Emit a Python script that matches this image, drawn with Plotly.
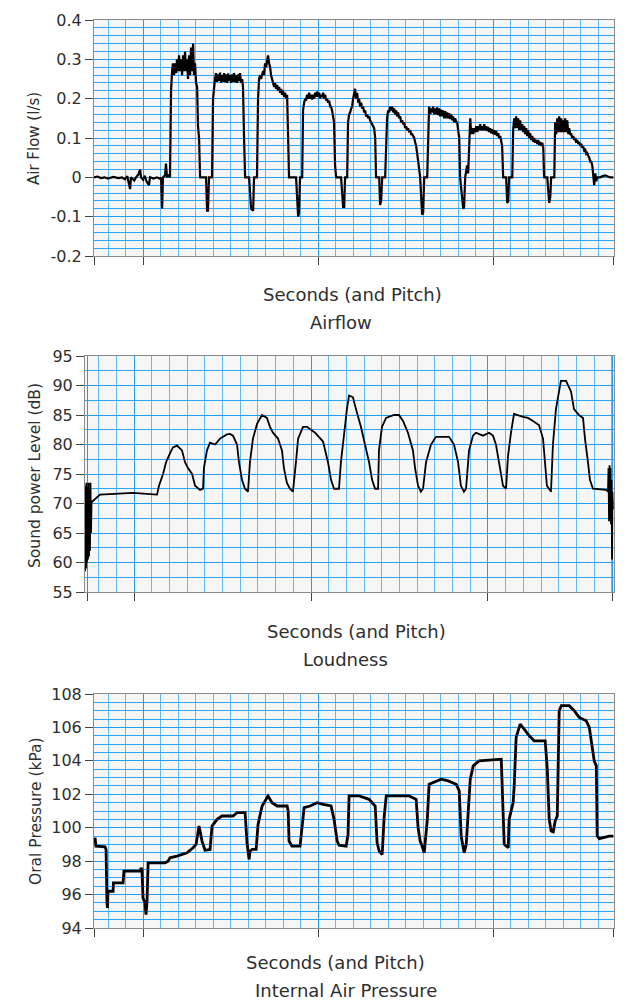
import plotly.graph_objects as go

# ---------------- data ----------------
AIR_T = [0.720,0.740,0.760,0.780,0.800,0.830,0.860,0.880,0.897,0.910,
         0.926,0.931,0.950,0.960,0.975,0.983,0.989,1.000,1.010,1.020,
         1.034,1.040,1.060,1.080,1.097,1.103,1.109,1.114,1.126,1.131,
         1.137,1.143,1.154,
         1.160,1.166,1.171,1.177,1.183,1.189,1.194,1.200,1.206,1.211,
         1.217,1.223,1.229,1.234,1.240,1.246,1.251,1.257,1.263,1.269,
         1.274,1.280,1.286,1.291,1.297,1.303,1.309,1.314,1.320,1.326,
         1.360,1.366,1.371,1.377,1.394,
         1.400,1.406,1.411,1.417,1.423,1.429,1.434,1.440,1.446,1.451,
         1.457,1.463,1.469,1.474,1.480,1.486,1.491,1.497,1.503,1.509,
         1.514,1.520,1.526,1.531,1.537,1.543,1.549,1.554,1.560,1.566,
         1.571,1.577,1.583,
         1.606,1.617,1.629,1.634,1.651,
         1.657,1.663,1.669,1.674,1.680,1.686,1.691,1.697,1.703,1.709,
         1.714,1.720,1.726,1.731,1.737,1.743,1.749,1.754,1.760,1.766,
         1.771,1.777,1.783,1.789,1.794,1.800,1.806,1.811,1.817,1.823,
         1.829,1.834,
         1.874,1.886,1.891,1.897,1.909,
         1.914,1.920,1.926,1.931,1.937,1.943,1.949,1.954,1.960,1.966,
         1.971,1.977,1.983,1.989,1.994,2.000,2.006,2.011,2.017,2.023,
         2.029,2.034,2.040,2.046,2.051,2.057,2.063,2.069,2.074,2.080,
         2.086,2.091,2.097,2.103,
         2.131,2.143,2.149,2.154,2.166,
         2.171,2.177,2.183,2.189,2.194,2.200,2.206,2.211,2.217,2.223,
         2.229,2.234,2.240,2.246,2.251,2.257,2.263,2.269,2.274,2.280,
         2.286,2.291,2.297,2.303,2.309,2.314,2.320,2.326,2.331,
         2.349,2.354,2.360,2.366,2.383,
         2.389,2.394,2.400,2.406,2.411,2.417,2.423,2.429,2.434,2.440,
         2.446,2.451,2.457,2.463,2.469,2.474,2.480,2.486,2.491,2.497,
         2.503,2.509,2.514,2.520,2.526,2.531,2.537,2.543,2.549,2.554,
         2.560,2.566,2.571,2.577,2.583,
         2.594,2.600,2.606,2.623,
         2.634,2.640,2.646,2.651,2.657,2.663,2.669,2.674,2.680,2.686,
         2.691,2.697,2.703,2.709,2.714,2.720,2.726,2.731,2.737,2.743,
         2.749,2.754,2.760,2.766,2.771,2.777,2.783,2.789,2.794,2.800,
         2.806,2.811,
         2.829,2.834,2.840,2.851,2.857,
         2.869,2.874,2.880,2.886,2.891,2.897,2.903,2.909,2.914,2.920,
         2.926,2.931,2.937,2.943,2.949,2.954,2.960,2.966,2.971,2.977,
         2.983,2.989,2.994,3.000,3.006,3.011,3.017,3.023,3.029,3.034,
         3.040,3.046,3.051,3.057,
         3.074,3.080,3.086,3.091,3.109,
         3.114,3.120,3.126,3.131,3.137,3.143,3.149,3.154,3.160,3.166,
         3.171,3.177,3.183,3.189,3.194,3.200,3.206,3.211,3.217,3.223,
         3.229,3.234,3.240,3.246,3.251,3.257,3.263,3.269,3.274,3.280,
         3.286,3.291,
         3.309,3.320,3.326,3.331,3.349,
         3.354,3.360,3.366,3.371,3.377,3.383,3.389,3.394,3.400,3.406,
         3.411,3.417,3.423,3.429,3.434,3.440,3.446,3.451,3.457,3.463,
         3.469,3.474,3.480,3.486,3.491,3.497,3.503,3.509,3.514,3.520,
         3.526,3.531,3.537,3.543,3.549,3.554,3.560,3.566,3.571,3.577,
         3.583,3.589,3.594,
         3.611,3.625,3.640,3.655,3.669,3.686]
AIR_V = [0.0,0.002,-0.002,0.0,-0.003,0.001,-0.002,0.0,-0.005,0.003,
         -0.03,0.0,-0.008,0.0,0.008,0.02,0.0,-0.006,0.004,-0.01,
         -0.02,0.0,-0.003,0.0,-0.004,0.0,-0.08,0.0,0.005,0.035,
         0.0,0.005,0.0,
         0.22,0.27,0.29,0.26,0.29,0.265,0.30,0.27,0.31,0.27,
         0.30,0.26,0.31,0.27,0.32,0.27,0.30,0.25,0.31,0.26,
         0.33,0.27,0.34,0.26,0.29,0.24,0.23,0.13,0.10,0.0,
         0.0,-0.085,-0.085,0.0,0.0,
         0.20,0.24,0.25,0.265,0.243,0.262,0.245,0.266,0.24,0.26,
         0.243,0.265,0.242,0.262,0.24,0.264,0.245,0.26,0.24,0.262,
         0.243,0.265,0.242,0.26,0.24,0.262,0.245,0.265,0.24,0.25,
         0.23,0.10,0.0,
         0.0,-0.08,-0.085,0.0,0.0,
         0.20,0.25,0.26,0.25,0.265,0.27,0.26,0.29,0.28,0.30,
         0.31,0.29,0.28,0.26,0.25,0.24,0.23,0.24,0.225,0.235,
         0.22,0.23,0.215,0.225,0.21,0.22,0.205,0.215,0.20,0.21,
         0.09,0.0,
         0.0,-0.10,-0.09,0.0,0.0,
         0.17,0.19,0.20,0.195,0.21,0.20,0.215,0.20,0.21,0.198,
         0.21,0.20,0.215,0.205,0.218,0.205,0.215,0.20,0.21,0.205,
         0.215,0.20,0.21,0.195,0.20,0.19,0.195,0.18,0.18,0.17,
         0.15,0.14,0.03,0.0,
         0.0,-0.075,-0.075,0.0,0.0,
         0.14,0.16,0.165,0.175,0.18,0.20,0.21,0.225,0.20,0.215,
         0.19,0.20,0.18,0.19,0.175,0.18,0.165,0.17,0.155,0.16,
         0.15,0.155,0.145,0.14,0.135,0.13,0.125,0.10,0.0,
         0.0,-0.07,-0.06,0.0,0.0,
         0.12,0.15,0.17,0.165,0.18,0.17,0.18,0.165,0.175,0.16,
         0.17,0.155,0.165,0.15,0.155,0.14,0.145,0.135,0.14,0.125,
         0.13,0.12,0.125,0.115,0.12,0.11,0.11,0.105,0.10,0.09,
         0.08,0.06,0.04,0.03,0.0,
         -0.095,-0.09,0.0,0.0,
         0.18,0.16,0.175,0.165,0.18,0.16,0.175,0.16,0.178,0.158,
         0.175,0.155,0.172,0.155,0.17,0.15,0.168,0.15,0.165,0.15,
         0.163,0.148,0.16,0.145,0.155,0.14,0.15,0.14,0.14,0.12,
         0.10,0.0,
         -0.08,-0.075,0.0,0.03,0.01,
         0.15,0.11,0.125,0.11,0.125,0.115,0.13,0.115,0.13,0.12,
         0.135,0.12,0.13,0.12,0.135,0.12,0.13,0.118,0.128,0.115,
         0.125,0.112,0.122,0.11,0.12,0.108,0.118,0.105,0.112,0.10,
         0.105,0.095,0.08,0.0,
         0.0,-0.065,-0.06,0.0,0.0,
         0.12,0.15,0.125,0.155,0.125,0.15,0.12,0.145,0.12,0.135,
         0.115,0.13,0.11,0.125,0.105,0.12,0.10,0.112,0.095,0.105,
         0.09,0.10,0.088,0.095,0.085,0.095,0.082,0.09,0.08,0.088,
         0.075,0.0,
         0.0,-0.065,-0.05,0.0,0.0,
         0.14,0.11,0.15,0.115,0.155,0.115,0.15,0.115,0.145,0.115,
         0.15,0.115,0.145,0.11,0.125,0.11,0.11,0.10,0.105,0.095,
         0.10,0.088,0.095,0.085,0.09,0.08,0.085,0.075,0.078,0.068,
         0.07,0.06,0.062,0.055,0.05,0.04,0.04,0.03,0.005,-0.02,
         0.01,-0.01,0.0,
         0.0,0.003,0.005,0.002,0.0,0.0]

LOUD_T = [0.723,0.726,0.729,0.731,0.734,0.737,0.740,0.743,0.746,0.749,
          0.751,0.754,0.757,0.760,0.763,
          0.808,0.904,0.994,
          1.130,1.141,1.164,1.181,1.203,1.220,1.243,1.271,1.288,1.305,1.328,1.345,1.373,
          1.390,1.395,1.412,1.429,1.458,1.486,1.525,1.542,1.559,1.582,1.593,1.610,1.627,1.644,
          1.655,1.672,1.695,1.723,1.751,1.768,1.785,1.814,1.836,1.847,1.864,1.881,1.898,
          1.915,1.927,1.955,1.977,2.023,2.068,2.096,2.113,2.130,2.158,
          2.169,2.186,2.203,2.215,2.237,2.254,2.282,2.305,2.328,2.345,2.362,2.379,
          2.384,2.401,2.424,2.469,2.497,2.520,2.548,2.576,2.588,2.605,2.621,2.633,
          2.650,2.678,2.706,2.780,2.808,2.831,2.847,2.864,2.876,
          2.893,2.915,2.932,2.972,3.006,3.028,3.045,3.062,3.085,3.102,
          3.113,3.130,3.147,3.198,3.226,3.254,3.288,3.311,3.322,3.333,3.356,
          3.367,3.384,3.401,3.412,3.441,3.469,3.486,3.514,3.537,3.548,3.565,3.576,3.593,
          3.667,3.678,3.681,3.684,3.687,3.689,3.692,3.695,3.698,3.701,3.703,3.706]
LOUD_V = [58.5,73,59,73.5,60,72.8,60.5,73.5,61,72,
          62,73.5,65,70.5,70.3,
          71.5,71.7,71.8,
          71.5,73,75,77,78.5,79.5,79.8,79,77,76,75,73,72.3,
          72.5,76,79,80.3,80,81,81.7,81.8,81.5,80,77,74,72.5,72,
          77,81,83.5,85,84.5,83,82,81,79,76,73.5,72.5,72,
          77,81,83,83,82,80.5,77,74,72.5,72.5,
          77,82,86,88.3,88,86,83,80,77,74,72.5,72.5,
          79,83,84.5,85,85,84,82,79,76,73,72,72.5,
          77,80,81.3,81.3,80,77,73,72,72.5,
          79,81.5,82,81.5,82,81.5,80,77,73,72.5,
          78,82,85.2,84.7,84.5,84,83.3,81,77,73,72,
          80,86,89,90.8,90.8,89,86,85,84.5,81,77,74,72.5,
          72.3,72,76,67,76.5,67.5,76,66.5,74,60.5,72,69]

PRES_T = [0.726,0.731,0.783,0.789,0.794,0.797,0.800,0.829,0.831,0.886,
          0.891,0.983,0.989,0.994,1.000,1.011,1.017,1.023,1.029,1.126,
          1.143,1.154,1.194,1.251,1.286,1.303,1.320,1.337,1.354,1.383,
          1.394,1.423,1.451,1.514,1.537,1.583,1.594,1.606,1.611,1.623,
          1.646,1.657,1.680,1.697,1.714,1.737,1.766,1.823,1.829,1.834,
          1.851,1.897,1.909,1.920,1.954,1.994,2.029,2.074,2.091,2.109,
          2.120,2.160,2.171,2.177,2.234,2.291,2.326,2.337,2.349,2.366,
          2.377,2.389,2.520,2.560,2.571,2.583,2.594,2.606,2.623,2.634,
          2.703,2.743,2.789,2.806,2.817,2.834,2.846,2.857,2.869,2.886,
          2.920,3.046,3.057,3.063,3.086,3.091,3.114,3.120,3.131,3.154,
          3.177,3.206,3.234,3.297,3.309,3.320,3.331,3.343,3.354,3.366,
          3.377,3.389,3.434,3.463,3.491,3.531,3.549,3.566,3.577,3.589,
          3.594,3.606,3.663,3.686]
PRES_V = [99.4,98.9,98.85,98.7,95.5,95.2,96.2,96.2,96.7,96.7,
          97.4,97.4,97.6,97.5,95.8,95.5,94.8,95.6,97.9,97.9,
          98.0,98.2,98.3,98.5,98.8,99.0,100.1,99.2,98.65,98.7,
          100.1,100.5,100.7,100.7,100.9,100.9,99.1,98.1,98.6,98.7,
          98.7,100.2,101.3,101.6,101.9,101.5,101.3,101.3,101.0,99.2,
          98.9,98.9,100.3,101.2,101.3,101.5,101.4,101.3,100.5,99.2,
          98.95,98.9,99.6,101.9,101.9,101.7,101.3,99.1,98.6,98.4,
          100.6,101.9,101.9,101.7,100.0,99.2,98.9,98.5,100.4,102.6,
          102.9,102.8,102.6,102.2,99.5,98.5,99.0,101.0,102.9,103.7,
          104.0,104.1,100.0,99.0,98.8,100.5,101.5,102.5,105.4,106.2,
          105.9,105.5,105.2,105.2,103.5,100.5,99.8,99.75,100.4,100.7,
          107.0,107.3,107.3,107.0,106.6,106.4,106.0,104.8,104.0,103.7,
          99.5,99.35,99.5,99.5]

AIR_TICKS = [-0.2, -0.1, 0, 0.1, 0.2, 0.3, 0.4]
AIR_LABELS = ["-0.2", "-0.1", "0", "0.1", "0.2", "0.3", "0.4"]
LOUD_TICKS = [55, 60, 65, 70, 75, 80, 85, 90, 95]
PRES_TICKS = [94, 96, 98, 100, 102, 104, 106, 108]
X_TICKS_TOP = [0.725, 1, 2, 3, 3.685]
X_TICKS_MID = [0.735, 1, 2, 3, 3.705]

TITLES = ["Airflow", "Loudness", "Internal Air Pressure"]
X_TITLE = "Seconds (and Pitch)"
Y_TITLES = ["Air Flow (l/s)", "Sound power Level (dB)", "Oral Pressure (kPa)"]

assert len(AIR_T) == len(AIR_V), (len(AIR_T), len(AIR_V))
assert len(LOUD_T) == len(LOUD_V), (len(LOUD_T), len(LOUD_V))
assert len(PRES_T) == len(PRES_V), (len(PRES_T), len(PRES_V))

# ---------------- figure ----------------
W, H = 636, 1001
FONT = "DejaVu Sans"
TXT = "#2e2e2e"
MAJ = "#1f9ff0"
MIN_X = "#5cbcf7"
MIN_Y = "#2aa8f8"
BG = "#f6f6f6"

def px_x(p):
    return p / W

def px_y(p):
    return 1 - p / H

fig = go.Figure()
fig.add_trace(go.Scatter(x=AIR_T, y=AIR_V, mode="lines", xaxis="x", yaxis="y",
                         line=dict(color="black", width=2.2), showlegend=False))
fig.add_trace(go.Scatter(x=LOUD_T, y=LOUD_V, mode="lines", xaxis="x2", yaxis="y2",
                         line=dict(color="black", width=1.8), showlegend=False))
fig.add_trace(go.Scatter(x=PRES_T, y=PRES_V, mode="lines", xaxis="x3", yaxis="y3",
                         line=dict(color="black", width=2.8), showlegend=False))

def xax(domain, rng, ticks, anchor):
    return dict(domain=domain, range=rng, anchor=anchor, tickmode="array",
                tickvals=ticks, showticklabels=False, ticks="outside", ticklen=8,
                tickwidth=1, tickcolor="#444", showgrid=True, gridcolor=MAJ,
                gridwidth=1, zeroline=False, showline=True, linecolor="#8c8c8c",
                linewidth=1, mirror=True, automargin=False,
                minor=dict(tick0=0, dtick=0.1, showgrid=True, gridcolor=MIN_X,
                           gridwidth=1, ticklen=0))

def yax(domain, rng, ticks, labels, minor, anchor):
    return dict(domain=domain, range=rng, anchor=anchor, tickmode="array",
                tickvals=ticks, ticktext=labels, ticks="outside", ticklen=8,
                tickwidth=1, tickcolor="#444", showgrid=True, gridcolor=MAJ,
                gridwidth=1, zeroline=False, showline=True, linecolor="#8c8c8c",
                linewidth=1, mirror=True, automargin=False,
                tickfont=dict(family=FONT, size=16, color=TXT),
                minor=dict(tick0=0, dtick=minor, showgrid=True, gridcolor=MIN_Y,
                           gridwidth=1, ticklen=0))

d1x = [px_x(94), px_x(614)]
d2x = [px_x(85), px_x(614)]
d3x = [px_x(94), px_x(614)]
d1y = [px_y(256), px_y(20)]
d2y = [px_y(592), px_y(356)]
d3y = [px_y(928), px_y(694)]

annotations = []
def ann(text, x, y, size, angle=0):
    annotations.append(dict(text=text, x=px_x(x), y=px_y(y), xref="paper", yref="paper",
                            showarrow=False, xanchor="center", yanchor="middle",
                            textangle=angle, font=dict(family=FONT, size=size, color=TXT)))

ann(X_TITLE, 352, 294, 18)
ann(TITLES[0], 341, 322, 18)
ann(X_TITLE, 356, 631, 18)
ann(TITLES[1], 345, 659, 18)
ann(X_TITLE, 335, 962, 18)
ann(TITLES[2], 346, 990, 18)
ann(Y_TITLES[0], 34, 139, 15, -90)
ann(Y_TITLES[1], 35, 476, 15.5, -90)
ann(Y_TITLES[2], 36, 811, 15.5, -90)

fig.update_layout(
    width=W, height=H, autosize=False,
    margin=dict(l=0, r=0, t=0, b=0, pad=0, autoexpand=False),
    paper_bgcolor="white", plot_bgcolor=BG,
    font=dict(family=FONT, color=TXT),
    xaxis=xax(d1x, [0.72, 3.69], X_TICKS_TOP, "y"),
    yaxis=yax(d1y, [-0.2, 0.4], AIR_TICKS, AIR_LABELS, 0.02, "x"),
    xaxis2=xax(d2x, [0.723, 3.712], X_TICKS_MID, "y2"),
    yaxis2=yax(d2y, [55, 95], LOUD_TICKS, [str(v) for v in LOUD_TICKS], 2.5, "x2"),
    xaxis3=xax(d3x, [0.72, 3.69], X_TICKS_TOP, "y3"),
    yaxis3=yax(d3y, [94, 108], PRES_TICKS, [str(v) for v in PRES_TICKS], 0.5, "x3"),
    annotations=annotations,
)

fig.write_html("out.html", config={"responsive": False, "displayModeBar": False},
               post_script="document.body.style.margin='0';document.body.style.padding='0';")
